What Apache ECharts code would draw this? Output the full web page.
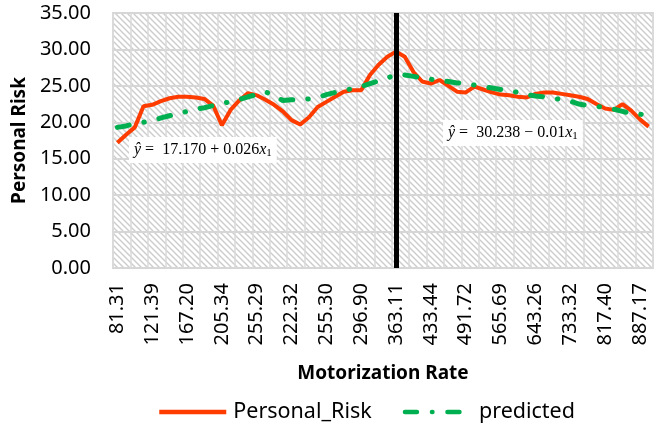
<!DOCTYPE html>
<html>
<head>
<meta charset="utf-8">
<script src="https://cdn.jsdelivr.net/npm/echarts@6/dist/echarts.min.js"></script>
<style>
  html, body { margin: 0; padding: 0; background: #fff; }
  #chart { width: 660px; height: 432px; }
</style>
</head>
<body>
<div id="chart"></div>
<script>
// motorization rate (x categories), only every 4th one is labelled
const categories = [
  '81.31', '88.50', '97.10', '109.80', '121.39', '131.60', '143.20', '155.40',
  '167.20', '177.90', '186.40', '196.10', '205.34', '216.70', '228.50', '241.80',
  '255.29', '270.15', '247.60', '224.80', '222.32', '228.40', '236.90', '244.70',
  '255.30', '266.80', '277.40', '286.10', '296.90', '314.50', '331.20', '347.60',
  '363.11', '381.40', '398.70', '416.20', '433.44', '447.90', '461.30', '476.50',
  '491.72', '509.80', '528.40', '546.60', '565.69', '584.30', '603.70', '622.80',
  '643.26', '664.90', '687.10', '709.80', '733.32', '754.60', '775.10', '796.30',
  '817.40', '834.20', '852.60', '869.90', '887.17', '905.40'
]

const personalRisk = [
  17.2, 18.3, 19.3, 22.2, 22.4, 22.9, 23.3, 23.5,
  23.5, 23.4, 23.2, 22.3, 19.6, 21.7, 23.0, 24.0,
  23.7, 23.1, 22.4, 21.5, 20.3, 19.7, 20.7, 22.1,
  22.8, 23.5, 24.2, 24.4, 24.4, 26.5, 27.9, 29.0,
  29.7, 29.0, 26.9, 25.6, 25.3, 25.8, 25.0, 24.2,
  24.1, 24.9, 24.5, 24.1, 23.8, 23.7, 23.5, 23.4,
  23.9, 24.1, 24.1, 23.9, 23.7, 23.5, 23.2, 22.5,
  21.9, 21.7, 22.5, 21.6, 20.4, 19.4
]

const predicted = [
  19.3, 19.5, 19.8, 20.0, 20.2, 20.6, 20.9, 21.2,
  21.5, 21.8, 22.0, 22.3, 22.6, 22.8, 23.1, 23.5,
  23.8, 24.2, 23.6, 23.0, 23.1, 23.1, 23.2, 23.4,
  23.8, 24.1, 24.4, 24.6, 24.9, 25.3, 25.7, 26.1,
  26.5, 26.5, 26.3, 26.1, 25.9, 25.7, 25.6, 25.4,
  25.3, 25.1, 24.9, 24.7, 24.5, 24.3, 24.1, 23.8,
  23.6, 23.5, 23.3, 23.1, 22.9, 22.5, 22.3, 22.2,
  22.0, 21.8, 21.5, 21.2, 21.1, 21.0
]

const splitAt = '363.11'
const yMin = 0
const yMax = 35
const yStep = 5

// hatched plot background like the excel pattern fill
function hatch() {
  const c = document.createElement('canvas')
  c.width = 6
  c.height = 6
  const ctx = c.getContext('2d')
  ctx.fillStyle = '#ffffff'
  ctx.fillRect(0, 0, 6, 6)
  ctx.strokeStyle = '#cccccc'
  ctx.lineWidth = 1.4
  ctx.beginPath()
  ctx.moveTo(-1, -1); ctx.lineTo(7, 7)
  ctx.moveTo(-1, 5); ctx.lineTo(1, 7)
  ctx.moveTo(5, -1); ctx.lineTo(7, 1)
  ctx.stroke()
  return c
}

const font = '"Noto Sans", "Open Sans", sans-serif'
const eqFont = '"Liberation Serif", "DejaVu Serif", serif'

const myChart = echarts.init(document.getElementById('chart'))

const option = {
  backgroundColor: '#fff',
  animation: false,
  grid: {
    left: 113,
    right: 7,
    top: 13,
    bottom: 164,
    show: true,
    borderColor: '#d9d9d9',
    borderWidth: 2,
    backgroundColor: { image: hatch(), repeat: 'repeat' }
  },
  legend: {
    bottom: 4,
    left: 152,
    itemWidth: 67,
    itemHeight: 12,
    itemGap: 31,
    itemStyle: { opacity: 0 },
    lineStyle: { width: 4.5 },
    textStyle: { fontFamily: font, fontSize: 21.5, color: '#000', padding: [0, 0, 0, 2] },
    data: ['Personal_Risk', 'predicted']
  },
  xAxis: {
    type: 'category',
    data: categories,
    name: 'Motorization Rate',
    nameLocation: 'middle',
    nameGap: 96,
    nameTextStyle: { fontFamily: font, fontSize: 19, fontWeight: 'bold', color: '#000' },
    axisLine: { show: false },
    axisTick: { show: false },
    axisLabel: {
      interval: 3,
      rotate: 90,
      margin: 15,
      fontFamily: font,
      fontSize: 20,
      color: '#000'
    },
    splitLine: {
      show: true,
      interval: 1,
      lineStyle: { color: '#dadada', width: 1.5 }
    }
  },
  yAxis: {
    type: 'value',
    min: yMin,
    max: yMax,
    interval: yStep,
    name: 'Personal Risk',
    nameLocation: 'middle',
    nameGap: 83,
    nameTextStyle: { fontFamily: font, fontSize: 19, fontWeight: 'bold', color: '#000' },
    axisLine: { show: false },
    axisTick: { show: false },
    axisLabel: {
      margin: 22,
      fontFamily: font,
      fontSize: 20,
      color: '#000',
      formatter: v => v.toFixed(2)
    },
    splitLine: { lineStyle: { color: '#d6d6d6', width: 2 } }
  },
  series: [
    {
      name: 'Personal_Risk',
      type: 'line',
      data: personalRisk,
      symbol: 'none',
      color: '#ff3c00',
      lineStyle: { color: '#ff3c00', width: 4 },
      markLine: {
        silent: true,
        symbol: ['none', 'none'],
        label: { show: false },
        lineStyle: { color: '#000', width: 5, type: 'solid' },
        data: [{ xAxis: splitAt }]
      },
      z: 3
    },
    {
      name: 'predicted',
      type: 'line',
      data: predicted,
      symbol: 'none',
      color: '#00b050',
      // dash - dot - dash like excel's "long dash dot"
      lineStyle: { color: '#00b050', width: 5, type: [12, 15, 0.5, 15], cap: 'round' },
      z: 4
    }
  ]
}

myChart.setOption(option)

// regression equations drawn as text boxes inside the plot
const eqRich = {
  n: { fontFamily: eqFont, fontSize: 16, color: '#000' },
  i: { fontFamily: eqFont, fontSize: 16, fontStyle: 'italic', color: '#000' },
  s: { fontFamily: eqFont, fontSize: 11, color: '#000', padding: [7, 0, 0, 0] }
}

myChart.setOption({
  graphic: [
    {
      type: 'text',
      left: 129,
      top: 137,
      style: {
        text: '{i|ŷ}{n| =  17.170 + 0.026}{i|x}{s|1}',
        rich: eqRich,
        backgroundColor: '#fff',
        padding: [4, 5]
      },
      z: 10
    },
    {
      type: 'text',
      left: 443,
      top: 120,
      style: {
        text: '{i|ŷ}{n| =  30.238 − 0.01}{i|x}{s|1}',
        rich: eqRich,
        backgroundColor: '#fff',
        padding: [4, 5]
      },
      z: 10
    }
  ]
})

window.addEventListener('resize', () => {
  myChart.resize()
})
</script>
</body>
</html>
